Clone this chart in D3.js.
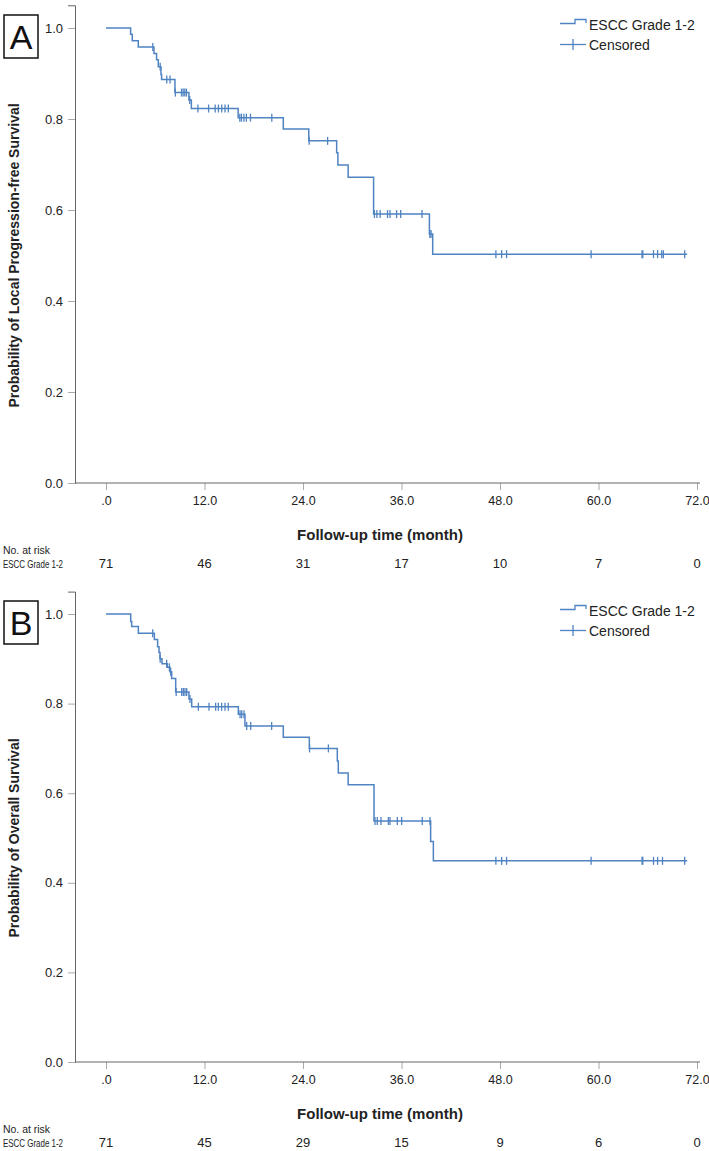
<!DOCTYPE html>
<html>
<head>
<meta charset="utf-8">
<script src="https://cdn.jsdelivr.net/npm/d3@7"></script>
<style>
    body { margin: 0; background: #fff; }
    text { font-family: "Liberation Sans", Arial, sans-serif; fill: #222; }
</style>
</head>
<body>
<svg id="chart" width="709" height="1151"></svg>
<script>
const xTicks = [0, 12, 24, 36, 48, 60, 72];
const yTicks = [0, 0.2, 0.4, 0.6, 0.8, 1.0];
const groupName = "ESCC Grade 1-2";

// panel A: local progression-free survival
const eventTimesA = [3.0, 3.2, 3.93, 5.84, 6.16, 6.37, 6.7, 6.77, 8.4, 10.1, 10.4, 16.1, 21.6, 24.7, 28.1, 28.25, 29.5, 32.6, 39.4, 39.8];
const survivalA = [0.986, 0.972, 0.958, 0.944, 0.930, 0.915, 0.898, 0.887, 0.858, 0.842, 0.823, 0.803, 0.778, 0.752, 0.726, 0.699, 0.672, 0.591, 0.547, 0.503];
const censorTimesA = [5.7, 6.6, 7.4, 7.8, 8.45, 9.2, 9.4, 9.6, 9.8, 10.2, 11.2, 12.5, 13.3, 13.7, 14.1, 14.5, 14.9, 16.3, 16.5, 16.8, 17.1, 17.6, 20.2,
    24.75, 27.0, 32.7, 33.0, 33.4, 34.3, 34.6, 35.4, 35.9, 38.5, 39.45, 39.6, 47.5, 48.2, 48.8, 59.1, 65.3, 65.4, 66.7, 67.2, 67.7, 67.9, 70.5];
const endTimeA = 70.8;
const atRiskA = [71, 46, 31, 17, 10, 7, 0];

// panel B: overall survival
const eventTimesB = [3.01, 3.13, 3.94, 5.89, 6.29, 6.46, 6.58, 6.82, 7.47, 7.8, 8.0, 8.49, 10.11, 10.44, 16.12, 16.93, 21.6, 24.77, 28.18, 28.3, 29.5, 32.65, 39.55, 39.88];
const survivalB = [0.983, 0.972, 0.957, 0.943, 0.927, 0.914, 0.900, 0.889, 0.881, 0.871, 0.856, 0.826, 0.810, 0.793, 0.776, 0.750, 0.725, 0.700, 0.672, 0.645, 0.619, 0.538, 0.492, 0.449];
const censorTimesB = [5.69, 6.6, 7.39, 7.72, 7.88, 8.55, 9.22, 9.42, 9.62, 9.83, 10.23, 11.25, 12.55, 13.36, 13.69, 14.09, 14.5, 14.9, 16.33, 16.53, 16.81, 17.14, 17.63, 20.18,
    24.8, 27.09, 32.77, 33.05, 33.5, 34.4, 34.6, 35.49, 36.02, 38.53, 39.47, 47.5, 48.2, 48.8, 59.1, 65.3, 65.4, 66.7, 67.2, 67.8, 70.5];
const endTimeB = 70.8;
const atRiskB = [71, 45, 29, 15, 9, 6, 0];

const lineColor = "#5083c2";

class KMPanel {
    constructor(svg, top, plotHeight, letter, yTitle, events, surv, censors, endTime, atRisk) {
        this.svg = svg;
        this.top = top;          // pixel y of survival 1.0
        this.plotHeight = plotHeight;
        this.letter = letter;
        this.yTitle = yTitle;
        this.events = events;
        this.surv = surv;
        this.censors = censors;
        this.endTime = endTime;
        this.atRisk = atRisk;
    }

    survAt(t) {
        let s = 1;
        this.events.forEach((e, i) => { if (e <= t) s = this.surv[i]; });
        return s;
    }

    draw() {
        const g = this.svg.append("g");
        const bottom = this.top + this.plotHeight;

        this.xScale = d3.scaleLinear().domain([0, 72]).range([106, 697]);
        this.yScale = d3.scaleLinear().domain([0, 1.05]).range([bottom, this.top - 0.05 * this.plotHeight]);
        const x = this.xScale, y = this.yScale;

        // panel letter
        g.append("rect")
            .attr("x", 4).attr("y", this.top - 13).attr("width", 34).attr("height", 43)
            .attr("fill", "none").attr("stroke", "#111").attr("stroke-width", 1.5);
        g.append("text")
            .attr("x", 21).attr("y", this.top + 21)
            .attr("text-anchor", "middle")
            .style("font-size", "34px")
            .style("fill", "#111")
            .text(this.letter);

        // y axis
        const yAxis = g.append("g")
            .attr("transform", `translate(75,0)`)
            .call(d3.axisLeft(y).tickValues(yTicks).tickFormat(d3.format(".1f")).tickSize(7).tickPadding(5));
        yAxis.select(".domain").attr("stroke", "#666");
        yAxis.selectAll(".tick line").attr("stroke", "#aaa");
        yAxis.selectAll("text").style("font-size", "13px").style("fill", "#222");

        // x axis
        const xAxis = g.append("g")
            .attr("transform", `translate(0,${bottom})`)
            .call(d3.axisBottom(x).tickValues(xTicks)
                .tickFormat(d => d === 0 ? ".0" : d3.format(".1f")(d))
                .tickSize(7).tickPadding(6));
        xAxis.select(".domain").remove();
        xAxis.selectAll(".tick line").attr("stroke", "#aaa");
        xAxis.selectAll("text").style("font-size", "12.5px").style("fill", "#222");
        g.append("line")
            .attr("x1", 75).attr("x2", 700)
            .attr("y1", bottom).attr("y2", bottom)
            .attr("stroke", "#666");

        // titles
        g.append("text")
            .attr("transform", `translate(19,${bottom - this.plotHeight / 2}) rotate(-90)`)
            .attr("text-anchor", "middle")
            .style("font-size", "14px").style("font-weight", "bold")
            .text(this.yTitle);
        g.append("text")
            .attr("x", 380).attr("y", bottom + 57)
            .attr("text-anchor", "middle")
            .style("font-size", "15px").style("font-weight", "bold")
            .text("Follow-up time (month)");

        // survival curve
        const pts = [[0, 1]].concat(this.events.map((t, i) => [t, this.surv[i]]));
        pts.push([this.endTime, this.surv[this.surv.length - 1]]);
        const line = d3.line().x(d => x(d[0])).y(d => y(d[1])).curve(d3.curveStepAfter);
        g.append("path")
            .datum(pts)
            .attr("d", line)
            .attr("fill", "none")
            .attr("stroke", lineColor)
            .attr("stroke-width", 1.5);

        // censor marks
        g.selectAll(".censor")
            .data(this.censors)
            .join("line")
            .attr("class", "censor")
            .attr("x1", d => x(d)).attr("x2", d => x(d))
            .attr("y1", d => y(this.survAt(d)) - 4)
            .attr("y2", d => y(this.survAt(d)) + 4)
            .attr("stroke", lineColor)
            .attr("stroke-width", 1.3);

        // legend
        const lg = g.append("g").attr("transform", `translate(0,${this.top - 28})`);
        lg.append("path")
            .attr("d", "M560,23.5H575V19.5H586V23")
            .attr("fill", "none").attr("stroke", lineColor).attr("stroke-width", 1.3);
        lg.append("text").attr("x", 589).attr("y", 30)
            .style("font-size", "14px").text(groupName);
        lg.append("line").attr("x1", 560).attr("x2", 586).attr("y1", 44.5).attr("y2", 44.5)
            .attr("stroke", lineColor).attr("stroke-width", 1.3);
        lg.append("line").attr("x1", 573).attr("x2", 573).attr("y1", 39).attr("y2", 50)
            .attr("stroke", lineColor).attr("stroke-width", 1.3);
        lg.append("text").attr("x", 589).attr("y", 50)
            .style("font-size", "14px").text("Censored");

        // number at risk
        g.append("text").attr("x", 3).attr("y", bottom + 71)
            .attr("textLength", 47).attr("lengthAdjust", "spacingAndGlyphs")
            .style("font-size", "11.5px").text("No. at risk");
        g.append("text").attr("x", 3).attr("y", bottom + 85)
            .attr("textLength", 60).attr("lengthAdjust", "spacingAndGlyphs")
            .style("font-size", "11.5px").text(groupName);
        g.selectAll(".risk")
            .data(this.atRisk)
            .join("text")
            .attr("class", "risk")
            .attr("x", (d, i) => x(xTicks[i]))
            .attr("y", bottom + 85)
            .attr("text-anchor", "middle")
            .style("font-size", "13px")
            .text(d => d);
    }
}

const svg = d3.select("#chart");
new KMPanel(svg, 28, 455, "A", "Probability of Local Progression-free Survival",
    eventTimesA, survivalA, censorTimesA, endTimeA, atRiskA).draw();
new KMPanel(svg, 614, 448, "B", "Probability of Overall Survival",
    eventTimesB, survivalB, censorTimesB, endTimeB, atRiskB).draw();
</script>
</body>
</html>
